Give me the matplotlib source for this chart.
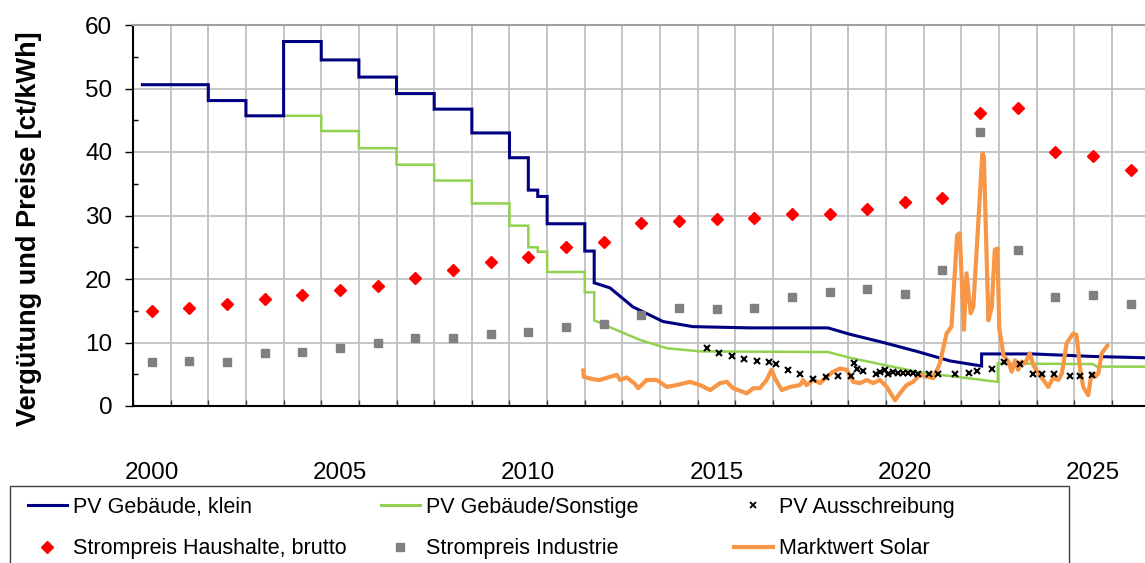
import matplotlib
matplotlib.use("Agg")
import matplotlib.pyplot as plt
from matplotlib.patches import Rectangle
from matplotlib.lines import Line2D
import numpy as np

plt.rcParams['font.family'] = ['Liberation Sans', 'DejaVu Sans']

# ---------------- data ----------------
# PV Gebäude, klein (step/curve, duplicate x = jump)
klein_x = [2000.25, 2002.0, 2002.0, 2003.0, 2003.0, 2004.0, 2004.0, 2005.0, 2005.0, 2006.0,
           2006.0, 2007.0, 2007.0, 2008.0, 2008.0, 2009.0, 2009.0, 2010.0, 2010.0, 2010.5,
           2010.5, 2010.75, 2010.75, 2011.0, 2011.0, 2012.0, 2012.0, 2012.25, 2012.25, 2012.67,
           2013.28, 2014.08, 2014.87, 2016.4, 2018.46, 2019.04, 2019.93, 2020.82, 2021.7, 2022.54,
           2022.54, 2023.9, 2025.5, 2026.88]
klein_y = [50.6, 50.6, 48.1, 48.1, 45.7, 45.7, 57.4, 57.4, 54.5, 54.5,
           51.8, 51.8, 49.2, 49.2, 46.75, 46.75, 43.0, 43.0, 39.1, 39.1,
           34.0, 34.0, 33.0, 33.0, 28.7, 28.7, 24.4, 24.4, 19.4, 18.6,
           15.6, 13.3, 12.5, 12.3, 12.3, 11.3, 10.0, 8.6, 7.1, 6.3,
           8.2, 8.2, 7.8, 7.6]

# PV Gebäude/Sonstige
sonst_x = [2004.0, 2005.0, 2005.0, 2006.0, 2006.0, 2007.0, 2007.0, 2008.0, 2008.0, 2009.0,
           2009.0, 2010.0, 2010.0, 2010.5, 2010.5, 2010.75, 2010.75, 2011.0, 2011.0, 2012.0,
           2012.0, 2012.25, 2012.25, 2012.75, 2013.47, 2014.18, 2015.06, 2018.46, 2019.04, 2019.84,
           2020.9, 2022.97, 2022.97, 2025.5, 2025.6, 2026.88]
sonst_y = [45.7, 45.7, 43.3, 43.3, 40.6, 40.6, 38.0, 38.0, 35.5, 35.5,
           31.9, 31.9, 28.4, 28.4, 25.0, 25.0, 24.3, 24.3, 21.1, 21.1,
           17.9, 17.9, 13.5, 12.2, 10.4, 9.1, 8.6, 8.5, 7.6, 6.6,
           5.3, 3.8, 6.7, 6.6, 6.2, 6.2]

# PV Ausschreibung
aus_x = [2015.24, 2015.56, 2015.91, 2016.24, 2016.57, 2016.89, 2017.08, 2017.41, 2017.72, 2018.07,
         2018.41, 2018.73, 2019.06, 2019.15, 2019.24, 2019.40, 2019.73, 2019.84, 2019.97, 2020.06,
         2020.19, 2020.33, 2020.46, 2020.59, 2020.72, 2020.86, 2021.15, 2021.39, 2021.83, 2022.21,
         2022.41, 2022.81, 2023.14, 2023.56, 2023.90, 2024.14, 2024.47, 2024.89, 2025.15, 2025.46]
aus_y = [9.1, 8.4, 7.9, 7.4, 7.1, 6.9, 6.6, 5.6, 5.0, 4.3,
         4.6, 4.7, 4.8, 6.7, 5.8, 5.5, 5.0, 5.4, 5.7, 5.1,
         5.3, 5.25, 5.25, 5.25, 5.25, 5.0, 5.0, 5.0, 5.0, 5.25,
         5.5, 5.8, 7.0, 6.6, 5.1, 5.1, 5.1, 4.8, 4.7, 4.9]

# Annual prices (plotted at year centre)
years = list(range(2000, 2027))
haushalte = [14.9, 15.5, 16.0, 16.9, 17.5, 18.3, 18.9, 20.1, 21.4, 22.7,
             23.4, 25.0, 25.9, 28.8, 29.2, 29.5, 29.6, 30.3, 30.3, 31.1,
             32.2, 32.7, 46.2, 47.0, 40.0, 39.3, 37.2]
industrie = [7.0, 7.1, 7.0, 8.4, 8.55, 9.2, 10.0, 10.65, 10.65, 11.3,
             11.6, 12.5, 12.9, 14.4, 15.4, 15.2, 15.5, 17.1, 18.0, 18.4,
             17.6, 21.4, 43.1, 24.5, 17.2, 17.5, 16.0]

# Marktwert Solar
mw_x = [2011.96, 2011.97, 2012.23, 2012.40, 2012.62, 2012.85, 2012.94, 2013.11, 2013.33, 2013.42,
        2013.64, 2013.91, 2014.18, 2014.44, 2014.79, 2015.06, 2015.33, 2015.59, 2015.77, 2015.94,
        2016.30, 2016.48, 2016.65, 2016.83, 2016.96, 2017.05, 2017.23, 2017.45, 2017.72, 2017.80,
        2017.89, 2018.07, 2018.25, 2018.42, 2018.60, 2018.78, 2018.96, 2019.13, 2019.31, 2019.49,
        2019.66, 2019.84, 2020.02, 2020.24, 2020.37, 2020.55, 2020.72, 2020.90, 2021.08, 2021.26,
        2021.43, 2021.61, 2021.74, 2021.89, 2021.96, 2022.07, 2022.14, 2022.25, 2022.32, 2022.43,
        2022.56, 2022.60, 2022.72, 2022.81, 2022.89, 2022.96, 2023.01, 2023.12, 2023.25, 2023.34,
        2023.43, 2023.51, 2023.60, 2023.69, 2023.82, 2023.91, 2024.05, 2024.18, 2024.31, 2024.44,
        2024.58, 2024.67, 2024.80, 2024.97, 2025.06, 2025.16, 2025.24, 2025.37, 2025.46, 2025.55,
        2025.64, 2025.73, 2025.88]
mw_y = [5.6, 4.6, 4.2, 4.1, 4.5, 4.9, 4.1, 4.5, 3.5, 2.8,
        4.1, 4.1, 3.0, 3.3, 3.8, 3.3, 2.5, 3.6, 3.8, 2.8,
        2.0, 2.8, 2.8, 4.1, 5.7, 4.4, 2.5, 3.0, 3.3, 4.1,
        3.3, 4.1, 3.6, 4.6, 5.4, 5.9, 5.7, 3.8, 3.6, 4.1,
        3.6, 4.1, 3.0, 0.9, 2.0, 3.3, 3.8, 4.9, 4.6, 4.4,
        6.7, 11.4, 12.5, 26.9, 27.2, 12.0, 20.9, 14.6, 15.6, 26.7,
        39.8, 39.3, 13.5, 15.6, 24.6, 24.8, 12.2, 8.0, 7.0, 5.4,
        7.2, 5.7, 7.0, 6.7, 8.3, 6.5, 5.1, 4.1, 3.0, 4.4,
        4.1, 5.1, 9.9, 11.4, 11.2, 5.7, 3.0, 1.7, 5.1, 4.6,
        5.1, 8.3, 9.5]

label_years = [2000, 2005, 2010, 2015, 2020, 2025]

# ---------------- figure ----------------
W, H = 1145, 563
fig = plt.figure(figsize=(W / 100, H / 100), dpi=100)
ax = fig.add_axes([133 / W, 157 / H, 1 - 133 / W, 381 / H])

c_klein = '#000080'
c_sonst = '#92D050'
c_red = '#FF0000'
c_gray = '#808080'
c_orange = '#F79646'

ax.plot(sonst_x, sonst_y, color=c_sonst, lw=1.8, zorder=3, solid_joinstyle='miter')
ax.plot(klein_x, klein_y, color=c_klein, lw=2.2, zorder=3, solid_joinstyle='miter')
ax.plot(mw_x, mw_y, color=c_orange, lw=3.0, zorder=4)
ax.plot(aus_x, aus_y, ls='none', marker='x', color='black', ms=4.8, mew=1.5, zorder=5)
yc = [y + 0.5 for y in years]
ax.plot(yc, industrie, ls='none', marker='s', color=c_gray, ms=5.8, zorder=6)
ax.plot(yc, haushalte, ls='none', marker='D', color=c_red, ms=6.3, zorder=6)

ax.set_xlim(2000, 2026.88)
ax.set_ylim(0, 60)

# grid / ticks
ax.set_xticks(np.arange(2000, 2027))
ax.set_xticklabels([])
ax.set_xticks([y + 0.5 for y in label_years], minor=True)
ax.set_xticklabels([str(y) for y in label_years], minor=True)
ax.set_yticks(np.arange(0, 61, 10))
ax.set_yticks(np.arange(5, 60, 10), minor=True)

ax.grid(True, which='major', color='#C0C0C0', lw=1.3, zorder=0)
ax.set_axisbelow(True)

ax.tick_params(axis='x', which='major', direction='in', length=4, width=1, color='#404040')
ax.tick_params(axis='x', which='minor', length=0, pad=40, labelsize=17.5)
ax.tick_params(axis='y', which='major', direction='out', length=6, width=1, pad=9, labelsize=17.5)
ax.tick_params(axis='y', which='minor', direction='in', length=3.5, width=1)

for s in ['left', 'bottom']:
    ax.spines[s].set_color('black')
    ax.spines[s].set_linewidth(1.5)
ax.spines['top'].set_color('#A0A0A0')
ax.spines['top'].set_linewidth(1.5)
ax.spines['right'].set_visible(False)

fig.text(29 / W, 1 - 229 / H, 'Vergütung und Preise [ct/kWh]', rotation=90,
         ha='center', va='center', fontsize=19.5, fontweight='bold')

# ---------------- legend ----------------
fig.patches.append(Rectangle((10 / W, -0.1), 1059 / W, 0.1 + (H - 486) / H,
                             transform=fig.transFigure, fill=False,
                             edgecolor='#404040', lw=1.0))

h_klein = Line2D([], [], color=c_klein, lw=2.2)
h_sonst = Line2D([], [], color=c_sonst, lw=2.2)
h_aus = Line2D([], [], ls='none', marker='x', color='black', ms=4, mew=1.3)
h_red = Line2D([], [], ls='none', marker='D', color=c_red, ms=6)
h_gray = Line2D([], [], ls='none', marker='s', color=c_gray, ms=5.5)
h_or = Line2D([], [], color=c_orange, lw=3.0)

cols = [
    ([h_klein, h_red], ['PV Gebäude, klein', 'Strompreis Haushalte, brutto'], 28),
    ([h_sonst, h_gray], ['PV Gebäude/Sonstige', 'Strompreis Industrie'], 381),
    ([h_aus, h_or], ['PV Ausschreibung', 'Marktwert Solar'], 734),
]
for hs, ls_, x0 in cols:
    lg = fig.legend(hs, ls_, loc='upper left', bbox_to_anchor=(x0 / W, 1 - 497 / H),
                    frameon=False, fontsize=15.5, borderpad=0, borderaxespad=0,
                    handlelength=1.8, handletextpad=0.3, labelspacing=0.95)

fig.savefig('out.png', dpi=100)
